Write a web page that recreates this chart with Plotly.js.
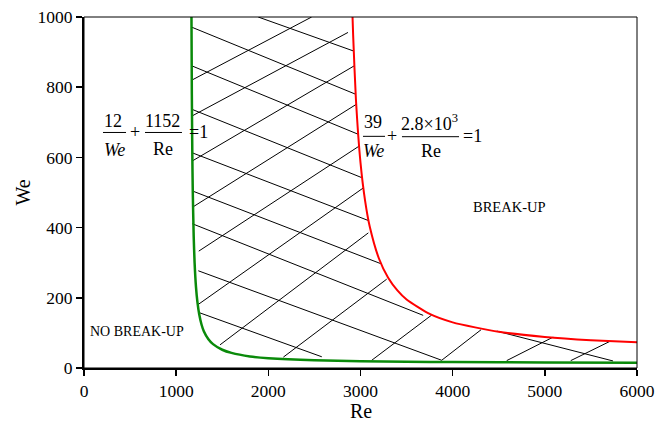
<!DOCTYPE html>
<html>
<head>
<meta charset="utf-8">
<script src="https://cdn.plot.ly/plotly-3.0.1.min.js"></script>
<style>html,body{margin:0;padding:0;background:#fff;}#chart{width:665px;height:424px;}</style>
</head>
<body>
<div id="chart"></div>
<script>
// ---- data ----
// green boundary: 12/We + 1152/Re = 1
const reGreen = [1166, 1170, 1175, 1180, 1190, 1200, 1215, 1230, 1250, 1275, 1300, 1350, 1400, 1500, 1600, 1800, 2000, 2500, 3000, 3500, 4000, 5000, 6000];
const weGreen = [1000, 780, 613, 506, 376, 300, 231, 189, 153, 124, 105, 82, 68, 52, 43, 33, 28, 22, 19.5, 17.9, 16.9, 15.6, 14.9];
// red boundary: 39/We + 2.8e3/Re = 1
const reRed = [2913, 2920, 2950, 3000, 3050, 3100, 3200, 3300, 3400, 3500, 3750, 4000, 4500, 5000, 5500, 6000];
const weRed = [1005, 949, 767, 585, 476, 403, 312, 257, 221, 195, 154, 130, 103, 88.6, 79.4, 73.1];
// hatch segments falling to the right
const downRe0 = [1890, 1169, 1168, 1171, 1175, 1180, 1175, 1240, 1247, 4480];
const downWe0 = [1000, 971, 861, 737, 613, 504, 411, 277, 158, 105];
const downRe1 = [2926, 2947, 2974, 3017, 3087, 3223, 3680, 3881, 2580, 5740];
const downWe1 = [903, 780, 666, 542, 420, 297, 150, 22, 32, 20];
// hatch segments rising to the right
const upRe0 = [1169, 1172, 1176, 1183, 1245, 1234, 1476, 2163, 3122, 3881, 4586, 5281];
const upWe0 = [820, 718, 590, 459, 333, 180, 66, 31, 22, 22, 21, 21];
const upRe1 = [2470, 2864, 2933, 2953, 2984, 3030, 3085, 3284, 3773, 4308, 5090, 5707];
const upWe1 = [1000, 956, 861, 751, 632, 513, 385, 253, 151, 109, 88, 76];
// ticks
const xTicks = [0, 1000, 2000, 3000, 4000, 5000, 6000];
const yTicks = [0, 200, 400, 600, 800, 1000];

// ---- build hatch trace ----
const hx = [], hy = [];
function addSegs(x0, y0, x1, y1) {
  for (let i = 0; i < x0.length; i++) {
    hx.push(x0[i], x1[i], null);
    hy.push(y0[i], y1[i], null);
  }
}
addSegs(downRe0, downWe0, downRe1, downWe1);
addSegs(upRe0, upWe0, upRe1, upWe1);

const FONT = 'Liberation Serif, Times New Roman, serif';

const traces = [
  {x: hx, y: hy, mode: 'lines', line: {color: '#000', width: 1}, connectgaps: false, hoverinfo: 'skip'},
  {x: reGreen, y: weGreen, mode: 'lines', line: {color: '#0a8a0a', width: 2.5, shape: 'spline', smoothing: 0.6}},
  {x: reRed, y: weRed, mode: 'lines', line: {color: '#ff0000', width: 2, shape: 'spline', smoothing: 0.6}}
];

function txt(x, y, t, size, italic) {
  return {x: x, y: y, xref: 'x', yref: 'y', text: italic ? '<i>' + t + '</i>' : t, showarrow: false,
          font: {family: FONT, size: size, color: '#000'}, xanchor: 'center', yanchor: 'middle'};
}
function bar(x0, x1, y) {
  return {type: 'line', xref: 'x', yref: 'y', x0: x0, x1: x1, y0: y, y1: y, line: {color: '#000', width: 1}};
}

const layout = {
  width: 665, height: 424,
  margin: {l: 84, r: 28, t: 17, b: 56},
  paper_bgcolor: '#fff', plot_bgcolor: '#fff',
  showlegend: false, hovermode: false,
  font: {family: FONT, color: '#000'},
  xaxis: {
    range: [0, 6000], tickvals: xTicks, ticktext: xTicks.map(String),
    ticks: 'outside', ticklen: 6, tickwidth: 1.5, tickcolor: '#000',
    showline: true, linewidth: 2, linecolor: '#000', showgrid: false, zeroline: false,
    tickfont: {family: FONT, size: 17.5, color: '#000'}
  },
  yaxis: {
    range: [0, 1000], tickvals: yTicks, ticktext: yTicks.map(String),
    ticks: 'outside', ticklen: 6, tickwidth: 1.5, tickcolor: '#000',
    showline: true, linewidth: 2, linecolor: '#000', showgrid: false, zeroline: false,
    tickfont: {family: FONT, size: 17.5, color: '#000'}
  },
  shapes: [
    {type: 'rect', xref: 'paper', yref: 'paper', x0: 0, x1: 1, y0: 0, y1: 1, line: {color: '#000', width: 1}},
    bar(206, 456, 671), bar(662, 1063, 671),
    bar(3027, 3266, 660), bar(3450, 4069, 659)
  ],
  annotations: [
    {xref: 'paper', yref: 'paper', x: -0.112, y: 0.5, text: 'We', textangle: -90, showarrow: false,
     xanchor: 'center', yanchor: 'middle', font: {family: FONT, size: 20, color: '#000'}},
    {xref: 'paper', yref: 'paper', x: 0.5, y: -0.122, text: 'Re', showarrow: false,
     xanchor: 'center', yanchor: 'middle', font: {family: FONT, size: 20, color: '#000'}},
    txt(315, 705, '12', 18), txt(326, 621, 'We', 18, true), txt(553, 671, '+', 18),
    txt(857, 705, '1152', 18), txt(857, 624, 'Re', 18), txt(1240, 671, '=1', 18),
    txt(3136, 702, '39', 18), txt(3136, 618, 'We', 18, true), txt(3342, 660, '+', 18),
    txt(3745, 699, '2.8×10<sup>3</sup>', 18), txt(3765, 618, 'Re', 18), txt(4215, 660, '=1', 18),
    txt(4622, 460, 'BREAK-UP', 14.5), txt(570, 103, 'NO BREAK-UP', 14)
  ]
};

Plotly.newPlot('chart', traces, layout, {displayModeBar: false, staticPlot: true});
</script>
</body>
</html>
